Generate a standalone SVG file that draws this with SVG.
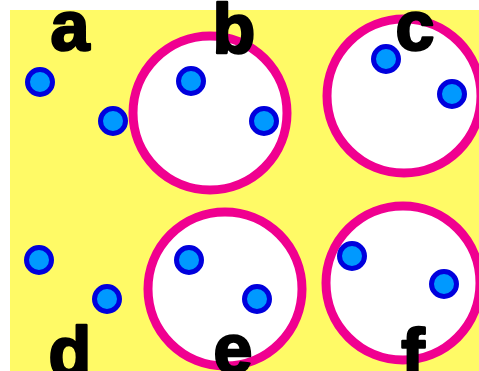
<svg xmlns="http://www.w3.org/2000/svg" width="479" height="371" viewBox="0 0 479 371">
<style>
.ring{fill:#ffffff;stroke:#f00090;stroke-width:9}
.dot{fill:#0099ff;stroke:#0000dd;stroke-width:5}
.lbl{font-family:"Liberation Sans",Arial,sans-serif;font-weight:bold;font-size:70px;fill:#000;stroke:#000;stroke-width:2.5;stroke-linejoin:round;text-anchor:middle}
</style>
<rect width="479" height="371" fill="#ffffff"/>
<rect x="10" y="10" width="469" height="361" fill="#fffa66"/>
<g id="a">
<circle class="dot" cx="40" cy="82" r="12.5"/>
<circle class="dot" cx="113" cy="121" r="12.5"/>
<text class="lbl" x="70" y="50">a</text>
</g>
<g id="b">
<circle class="ring" cx="210" cy="113" r="77"/>
<circle class="dot" cx="191" cy="81" r="12.5"/>
<circle class="dot" cx="264" cy="121" r="12.5"/>
<text class="lbl" x="234" y="53">b</text>
</g>
<g id="c">
<circle class="ring" cx="404" cy="96" r="77"/>
<circle class="dot" cx="386" cy="59" r="12.5"/>
<circle class="dot" cx="452" cy="94" r="12.5"/>
<text class="lbl" x="415" y="50">c</text>
</g>
<g id="d">
<circle class="dot" cx="39" cy="260" r="12.5"/>
<circle class="dot" cx="107" cy="299" r="12.5"/>
<text class="lbl" x="70" y="376">d</text>
</g>
<g id="e">
<circle class="ring" cx="225" cy="289" r="77"/>
<circle class="dot" cx="189" cy="260" r="12.5"/>
<circle class="dot" cx="257" cy="299" r="12.5"/>
<text class="lbl" x="233" y="373">e</text>
</g>
<g id="f">
<circle class="ring" cx="403" cy="283" r="77"/>
<circle class="dot" cx="352" cy="256" r="12.5"/>
<circle class="dot" cx="444" cy="284" r="12.5"/>
<text class="lbl" x="413" y="378">f</text>
</g>
<g id="connectors"/>
</svg>
